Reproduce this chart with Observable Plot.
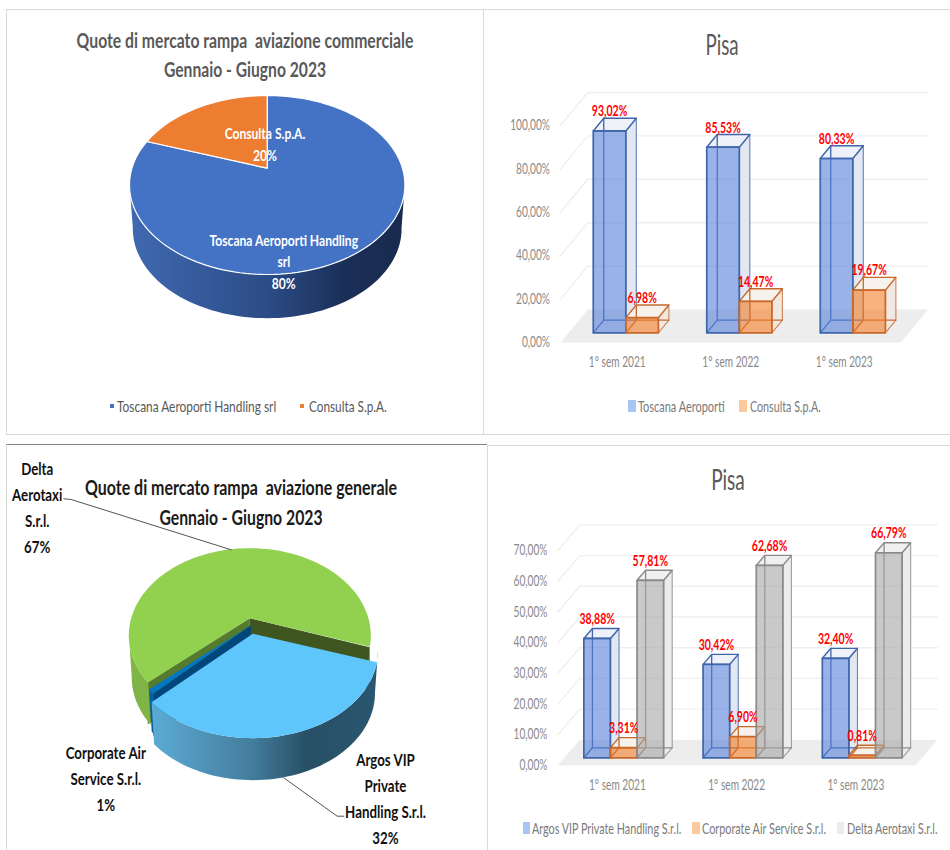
<!DOCTYPE html>
<html><head><meta charset="utf-8">
<script src="https://cdn.jsdelivr.net/npm/d3@7"></script>
<script src="https://cdn.jsdelivr.net/npm/@observablehq/plot@0.6"></script>
<style>
html,body{margin:0;padding:0;background:#fff}
#page{position:relative;width:950px;height:850px;overflow:hidden;background:#fff;font-family:Lato,"Open Sans",sans-serif}
.frame{position:absolute;box-sizing:border-box}
.frame svg{position:absolute;left:0;top:0}
.abs{position:absolute;white-space:pre;line-height:1}
</style></head><body><div id="page"></div>
<script>
// ---------- data ----------
const semesters = ["1° sem 2021", "1° sem 2022", "1° sem 2023"];
const commToscana = [93.02, 85.53, 80.33];
const commConsulta = [6.98, 14.47, 19.67];
const genArgos = [38.88, 30.42, 32.40];
const genCorporate = [3.31, 6.90, 0.81];
const genDelta = [57.81, 62.68, 66.79];
const commShares = [80.33, 19.67];
const commPieNames = ["Toscana Aeroporti Handling\nsrl\n80%", "Consulta S.p.A.\n20%"];
const genShares = [32.40, 0.81, 66.79];
const genPieNames = ["Argos VIP\nPrivate\nHandling S.r.l.\n32%", "Corporate Air\nService S.r.l.\n1%", "Delta\nAerotaxi\nS.r.l.\n67%"];
const commTicks = [0, 20, 40, 60, 80, 100];
const genTicks = [0, 10, 20, 30, 40, 50, 60, 70];

// ---------- helpers ----------
const FONT = 'Lato,"Open Sans",sans-serif';
const page = document.getElementById("page");
const pct = v => v.toFixed(2).replace(".", ",") + "%";
const rad = d => d * Math.PI / 180;

function frame(l, t, w, h, css) {
  const b = document.createElement("div");
  b.className = "frame";
  b.style.cssText = `left:${l}px;top:${t}px;width:${w}px;height:${h}px;${css}`;
  page.appendChild(b);
  const d = document.createElement("div");
  d.className = "frame";
  d.style.cssText = `left:${l}px;top:${t}px;width:${w}px;height:${h}px;`;
  page.appendChild(d);
  return d;
}
// the reference's lettering is tall and narrow: squeeze it horizontally
function squeeze(el, s) {
  el.querySelectorAll("text").forEach(t => {
    t.setAttribute("transform", (t.getAttribute("transform") || "") + ` scale(${s},1)`);
  });
  return el;
}
function html(text, x, y, mode, css, width) {
  const d = document.createElement("div");
  d.className = "abs";
  d.textContent = text;
  d.style.cssText = `left:${x}px;top:${y}px;${css}`;
  page.appendChild(d);
  const s = width / d.offsetWidth;
  if (mode === "mid") {
    d.style.transform = `translate(-50%,-50%) scaleX(${s})`;
  } else {
    d.style.transformOrigin = "left center";
    d.style.transform = `translateY(-50%) scaleX(${s})`;
  }
}
function swatch(x, y, w, h, color) {
  const d = document.createElement("div");
  d.className = "abs";
  d.style.cssText = `left:${x}px;top:${y - h / 2}px;width:${w}px;height:${h}px;background:${color}`;
  page.appendChild(d);
}
function gradient(id, stops) {
  return () => {
    const ns = "http://www.w3.org/2000/svg";
    const defs = document.createElementNS(ns, "defs");
    const g = document.createElementNS(ns, "linearGradient");
    g.setAttribute("id", id);
    for (const [o, c] of stops) {
      const s = document.createElementNS(ns, "stop");
      s.setAttribute("offset", o);
      s.setAttribute("stop-color", c);
      g.appendChild(s);
    }
    defs.appendChild(g);
    return defs;
  };
}

// ---------- pseudo-3D column chart ----------
function columns(cfg) {
  const {box, series, ticks, floorPx, unitPx, wall, barStart, barWidth, d0, d1, xRange, yMax} = cfg;
  const [L, T, W, H] = box;
  const P = (c, v, d) => ({x: c + d * wall[0], y: v + d * wall[1]});
  const floor = [P(0, 0, 0), P(3, 0, 0), P(3, 0, 1), P(0, 0, 1)].map(p => ({...p, id: "f"}));
  const grid = ticks.flatMap(v => [
    {...P(0, v, 0), id: "g" + v}, {...P(0, v, 1), id: "g" + v}, {...P(3, v, 1), id: "g" + v}
  ]);
  const side = [], top = [], front = [], back = [], labels = [];
  semesters.forEach((_, ci) => series.forEach((s, si) => {
    const v = s.values[ci], a = ci + barStart + si * barWidth, b = a + barWidth, id = ci + "-" + si;
    const add = (arr, pts, k) => pts.forEach(([c, val, d]) =>
      arr.push({...P(c, val, d), id: id + (k || ""), fill: s.fill, sideFill: s.side, topFill: s.top, stroke: s.stroke}));
    add(side, [[b, 0, d0], [b, 0, d1], [b, v, d1], [b, v, d0]]);
    add(top, [[a, v, d0], [b, v, d0], [b, v, d1], [a, v, d1]]);
    add(front, [[a, 0, d0], [b, 0, d0], [b, v, d0], [a, v, d0]]);
    add(back, [[a, 0, d0], [a, 0, d1], [a, v, d1]], "l");
    add(back, [[a, 0, d1], [b, 0, d1]], "b");
    labels.push({...P((a + b) / 2, v, d0), text: pct(v)});
  }));
  const el = Plot.plot({
    width: W, height: H,
    marginLeft: cfg.marginLeft, marginTop: 0, marginRight: 0, marginBottom: H - (cfg.axisBottomPx - T),
    style: {background: "transparent", fontFamily: FONT, overflow: "visible"},
    x: {type: "linear", domain: [0, 3], range: xRange.map(p => p - L)},
    y: {type: "linear", domain: [0, yMax], range: [floorPx - T, floorPx - T - yMax * unitPx]},
    marks: [
      Plot.line(floor, {x: "x", y: "y", z: "id", fill: "#ededed", stroke: "none", curve: "linear-closed"}),
      Plot.line(grid.filter(d => d.id !== "g0"), {x: "x", y: "y", z: "id", stroke: "#efefef", strokeWidth: 1.4, curve: "linear"}),
      Plot.axisY({ticks, tickFormat: pct, tickSize: 0, tickPadding: 4.5, fontSize: cfg.fontSize, color: "#8a8a8a", label: null}),
      Plot.axisX({ticks: [0.5, 1.5, 2.5], tickFormat: d => semesters[Math.floor(d)], tickSize: 0, tickPadding: 5, fontSize: cfg.fontSize, color: "#8a8a8a", label: null}),
      Plot.line(side, {x: "x", y: "y", z: "id", fill: d => d.sideFill, stroke: d => d.stroke, strokeWidth: 1.1, strokeOpacity: 0.8, curve: "linear-closed"}),
      Plot.line(top, {x: "x", y: "y", z: "id", fill: d => d.topFill, stroke: d => d.stroke, strokeWidth: 1.4, curve: "linear-closed"}),
      Plot.line(back, {x: "x", y: "y", z: "id", stroke: d => d.stroke, strokeWidth: 1.3, curve: "linear"}),
      Plot.line(front, {x: "x", y: "y", z: "id", fill: d => d.fill, fillOpacity: 0.6, stroke: d => d.stroke, strokeWidth: 1.7, curve: "linear-closed"}),
      Plot.text(labels, {x: "x", y: "y", text: "text", dy: -19.5, fill: "#ff0000", fontWeight: "bold", fontSize: cfg.fontSize + 0.5})
    ]
  });
  frame(L, T, W, H, cfg.css).appendChild(squeeze(el, cfg.squeeze));
}

// ---------- pseudo-3D pie chart ----------
function pie(cfg) {
  const {box, cx, cy, A, B, k, depth, shrink} = cfg;
  const [L, T, W, H] = box;
  const proj = (deg, r, o) => {
    const u = r * Math.sin(rad(deg)), v = r * Math.cos(rad(deg)), w = 1 + k * v;
    return {x: u / w + o[0] / A, y: v / w - o[1] / B};
  };
  const arc = (a, b, o, s) => {
    const n = Math.max(2, Math.ceil(Math.abs(b - a) / 2));
    return d3.range(n + 1).map(i => {
      const p = proj(a + (b - a) * i / n, 1, o);
      return {x: p.x * (s || 1) + o[0] / A * (1 - (s || 1)), y: p.y};
    });
  };
  const at = (px, py) => ({x: (px - cx) / A, y: (cy - py) / B});
  const marks = (cfg.gradients || []).map(g => gradient(g[0], g[1]));
  const poly = (pts, fill, stroke, sw) => Plot.line(pts, {x: "x", y: "y", fill, stroke: stroke || "none", strokeWidth: sw || 0, curve: "linear-closed"});
  let acc = cfg.start;
  const slices = cfg.shares.map((share, i) => {
    const a = acc, b = acc + share * 3.6;
    acc = b;
    return {a, b, off: cfg.offsets[i], style: cfg.styles[i]};
  });
  for (const i of cfg.order) {
    const {a, b, off, style} = slices[i];
    const down = [off[0], off[1] + depth];
    const sx = style.sx || 1;
    const apex = proj(a, 0, off), apexDown = proj(a, 0, down);
    if (style.walls) for (const [deg, col] of style.walls) {
      const rim = proj(deg, 1, off), rimDown = proj(deg, 1, down);
      marks.push(poly([apex, rim, rimDown, apexDown], col));
    }
    for (const [s1, s2] of style.sideRange) {
      marks.push(poly([...arc(s1, s2, off, sx), ...arc(s1, s2, down, shrink * sx).reverse()], style.side));
    }
    marks.push(poly([proj(a, 0, off), ...arc(a, b, off, sx)], style.top, cfg.edge, cfg.edge ? 1.2 : 0));
  }
  for (const [p, q, r] of cfg.leaders || []) {
    marks.push(Plot.line([at(...p), at(...q), at(...r)], {x: "x", y: "y", stroke: "#404040", strokeWidth: 0.9}));
  }
  cfg.labels.forEach(l => {
    const p = at(l.px[0], l.px[1]);
    marks.push(Plot.text([{...p, t: l.text}], {x: "x", y: "y", text: "t", fill: cfg.labelColor, fontWeight: "bold", fontSize: cfg.labelSize, lineHeight: cfg.lineHeight}));
  });
  const el = Plot.plot({
    width: W, height: H, margin: 0,
    style: {background: "transparent", fontFamily: FONT, overflow: "visible"},
    x: {type: "linear", axis: null, domain: [-1, 1], range: [cx - A - L, cx + A - L]},
    y: {type: "linear", axis: null, domain: [-1, 1], range: [cy + B - T, cy - B - T]},
    marks
  });
  frame(L, T, W, H, cfg.css).appendChild(squeeze(el, cfg.squeeze));
}

// ---------- panels ----------
const border = "border:1.5px solid #d9d9d9;";
pie({
  box: [6, 9, 477, 426], css: border + "border-right:none;",
  cx: 266.7, cy: 167.7, A: 135.25, B: 86.35, k: 0.1877, depth: 43.7, shrink: 0.976,
  start: 0, shares: commShares, order: [0, 1], edge: "#fff",
  offsets: [[0, 0], [0, 0]],
  gradients: [["gTos", [[0, "#4069b2"], [0.5, "#2c4c86"], [0.78, "#1b2f58"], [1, "#182a4e"]]]],
  styles: [
    {top: "#4472c4", side: "url(#gTos)", sideRange: [[100, 260]]},
    {top: "#ed7d31", side: "#ed7d31", sideRange: []}
  ],
  labels: [
    {text: commPieNames[1], px: [264.5, 142.7]},
    {text: commPieNames[0], px: [283.3, 260]}
  ],
  labelColor: "#fff", labelSize: 16, lineHeight: 1.36, squeeze: 0.755
});
columns({
  box: [483, 9, 467, 426], css: border + "border-right:none;",
  series: [
    {values: commToscana, fill: "#5580d9", side: "#e2e7f1", top: "#eef1f7", stroke: "#3f65ab"},
    {values: commConsulta, fill: "#f57f26", side: "#f1e8e1", top: "#f8f2ec", stroke: "#c8682a"}
  ],
  ticks: commTicks, yMax: 100, floorPx: 342, unitPx: 2.17, wall: [0.24, 15.2],
  xRange: [560, 900.5], barStart: 0.218, barWidth: 0.287, d0: 0.294, d1: 0.679,
  marginLeft: 71, axisBottomPx: 351, fontSize: 14.5, squeeze: 0.7
});
pie({
  box: [6, 444, 481, 406], css: "border-top:1.5px solid #808080;border-left:1.5px solid #d9d9d9;",
  cx: 249.3, cy: 617.7, A: 118.6, B: 83.8, k: 0.197, depth: 42, shrink: 0.976,
  start: 108.6, shares: genShares, order: [2, 1, 0], edge: null,
  offsets: [[3, 15.6], [1, 7], [0, 0]],
  gradients: [["gArg", [[0, "#5cabd5"], [0.45, "#437c9c"], [0.68, "#275066"], [1, "#2b5670"]]]],
  styles: [
    {top: "#5fc6fb", side: "url(#gArg)", sideRange: [[101, 225.2]], sx: 1.035},
    {top: "#0277c4", side: "#0262a2", sideRange: [[225, 228]], walls: [[225.2, "#01477c"]]},
    {top: "#92d050", side: "#7fb447", sideRange: [[228, 259], [101, 109]], walls: [[108.9, "#3f5620"], [228.4, "#567a2e"]]}
  ],
  leaders: [
    [[63.3, 498.3], [70.7, 499], [230.7, 549.3]],
    [[343.3, 815.7], [336.7, 815.7], [283.3, 777.3]]
  ],
  labels: [
    {text: genPieNames[2], px: [36.7, 505.5]},
    {text: genPieNames[1], px: [105.3, 776]},
    {text: genPieNames[0], px: [385, 796]}
  ],
  labelColor: "#111", labelSize: 17.5, lineHeight: 1.49, squeeze: 0.76
});
columns({
  box: [487, 445, 463, 405], css: "border-top:1.5px solid #d9d9d9;border-left:1.5px solid #d9d9d9;",
  series: [
    {values: genArgos, fill: "#5580d9", side: "#e2e7f1", top: "#eef1f7", stroke: "#3f65ab"},
    {values: genCorporate, fill: "#f57f26", side: "#f3ebe4", top: "#f8f2ec", stroke: "#c8682a"},
    {values: genDelta, fill: "#a5a5a5", side: "#ececec", top: "#f0f0f0", stroke: "#8a8a8a"}
  ],
  ticks: genTicks, yMax: 70, floorPx: 765, unitPx: 3.07, wall: [0.185, 8.37],
  xRange: [557.3, 915], barStart: 0.163, barWidth: 0.223, d0: 0.30, d1: 0.689,
  marginLeft: 64.5, axisBottomPx: 774, fontSize: 14.5, squeeze: 0.7
});

// ---------- titles and legends ----------
const GREY = "color:#595959;";
const T1 = "font-weight:bold;font-size:21px;";
html("Quote di mercato rampa  aviazione commerciale", 244.5, 39, "mid", GREY + T1, 337);
html("Gennaio - Giugno 2023", 244.5, 67.5, "mid", GREY + T1, 162);
html("Pisa", 721.7, 44, "mid", GREY + "font-size:28px", 33.5);
html("Quote di mercato rampa  aviazione generale", 240.5, 485.7, "mid", "color:#1a1a1a;" + T1, 312);
html("Gennaio - Giugno 2023", 241, 516, "mid", "color:#1a1a1a;" + T1, 163);
html("Pisa", 727.7, 479, "mid", GREY + "font-size:28px", 34);

const LEG1 = GREY + "font-size:15px";
swatch(109.5, 406, 4, 4, "#4472c4");
html("Toscana Aeroporti Handling srl", 117.3, 406, "leg", LEG1, 159.3);
swatch(300, 406, 4, 4, "#ed7d31");
html("Consulta S.p.A.", 309, 406, "leg", LEG1, 77.7);

const LEG = "color:#7a7a7a;font-size:15px";
swatch(628, 406, 8, 12, "#a9c5f3");
html("Toscana Aeroporti", 638, 406, "leg", LEG, 86.7);
swatch(739.3, 406, 8, 12, "#fcc99d");
html("Consulta S.p.A.", 749.5, 406, "leg", LEG, 70.7);

swatch(522.7, 827.5, 7.5, 12, "#a9c5f3");
html("Argos VIP Private Handling S.r.l.", 532.3, 827.5, "leg", LEG, 149.3);
swatch(692.3, 827.5, 7.5, 12, "#fcc99d");
html("Corporate Air Service S.r.l.", 702.3, 827.5, "leg", LEG, 124.3);
swatch(836.7, 827.5, 7.5, 12, "#ececec");
html("Delta Aerotaxi S.r.l.", 847.3, 827.5, "leg", LEG, 90.3);
</script></body></html>
